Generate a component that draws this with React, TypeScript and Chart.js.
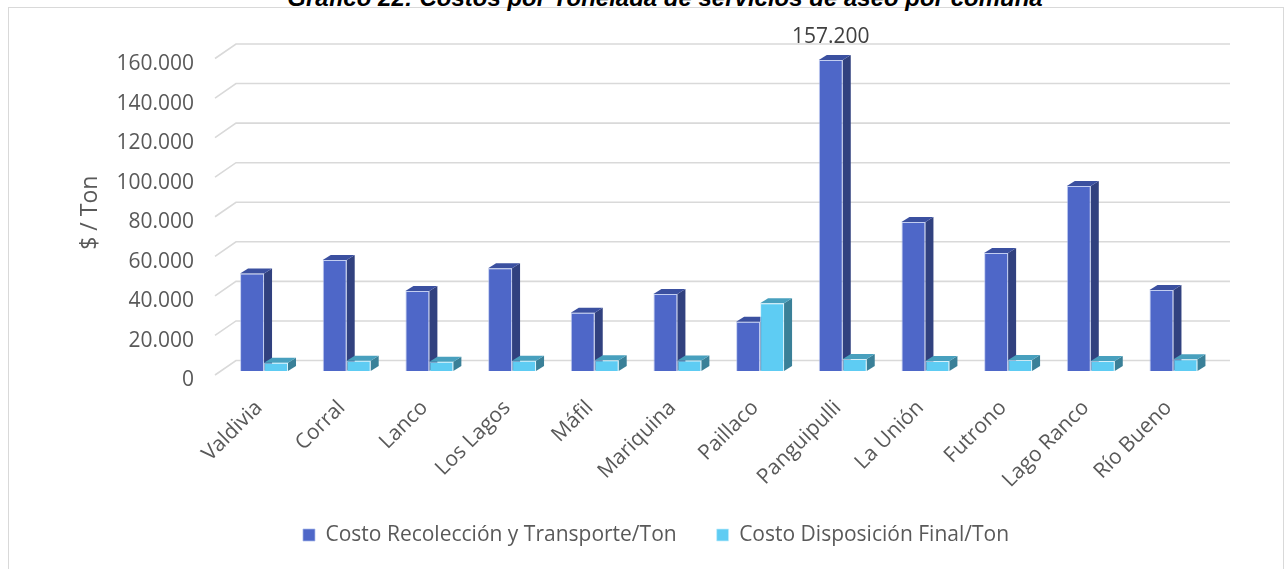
import React, { useEffect, useRef } from 'react';
import { Chart, registerables } from 'chart.js';

Chart.register(...registerables);

const categories = [
  'Valdivia', 'Corral', 'Lanco', 'Los Lagos', 'Máfil', 'Mariquina',
  'Paillaco', 'Panguipulli', 'La Unión', 'Futrono', 'Lago Ranco', 'Río Bueno',
];
const seriesNames = ['Costo Recolección y Transporte/Ton', 'Costo Disposición Final/Ton'];
const recoleccionTransporte = [49300, 56100, 40400, 51900, 29400, 38900, 24900, 157200, 75300, 59700, 93500, 40900];
const disposicionFinal = [4200, 5200, 4700, 5200, 5400, 5300, 34200, 6100, 5100, 5600, 5100, 5900];
const yTickValues = [0, 20000, 40000, 60000, 80000, 100000, 120000, 140000, 160000];
const labeledIndex = [7];
const yAxisTitle = '$ / Ton';
const chartTitle = 'Gráfico 22: Costos por Tonelada de servicios de aseo por comuna';

const FONT = "'Open Sans', sans-serif";
const TEXT = '#595959';
const frontColors = ['#4E67C8', '#5ECCF3'];
const sideColors = ['#31417F', '#3A8098'];
const topColors = ['#3B50A0', '#48A0BE'];
const DX = 8;
const DY = 5;

const fmt = (v: number) => Math.round(v).toString().replace(/\B(?=(\d{3})+(?!\d))/g, '.');

const threeD = {
  id: 'threeD',
  afterLayout(chart: any) {
    // let the rotated category labels run past the axis box without clipping
    chart.scales.x.bottom = chart.height;
  },
  beforeDatasetsDraw(chart: any) {
    const { ctx, chartArea } = chart;
    const y = chart.scales.y;
    ctx.save();
    ctx.strokeStyle = '#D9D9D9';
    ctx.lineWidth = 1.6;
    for (const v of yTickValues) {
      const p = y.getPixelForValue(v);
      ctx.beginPath();
      ctx.moveTo(chartArea.left - 7.7, p + 4);
      ctx.lineTo(chartArea.left + 13.3, p - 10.5);
      ctx.lineTo(chartArea.right + 15.2, p - 10.5);
      ctx.stroke();
    }
    const n = chart.data.labels.length;
    for (let i = 0; i < n; i++) {
      for (let d = 0; d < chart.data.datasets.length; d++) {
        const el: any = chart.getDatasetMeta(d).data[i];
        if (!el) continue;
        const { x, y: top, base, width } = el.getProps(['x', 'y', 'base', 'width'], true);
        const l = x - width / 2;
        const r = x + width / 2;
        ctx.fillStyle = sideColors[d];
        ctx.beginPath();
        ctx.moveTo(r, top);
        ctx.lineTo(r + DX, top - DY);
        ctx.lineTo(r + DX, base - DY);
        ctx.lineTo(r, base);
        ctx.closePath();
        ctx.fill();
        ctx.fillStyle = topColors[d];
        ctx.beginPath();
        ctx.moveTo(l, top);
        ctx.lineTo(l + DX, top - DY);
        ctx.lineTo(r + DX, top - DY);
        ctx.lineTo(r, top);
        ctx.closePath();
        ctx.fill();
      }
    }
    ctx.restore();
  },
  afterDatasetsDraw(chart: any) {
    const { ctx } = chart;
    const meta = chart.getDatasetMeta(0);
    ctx.save();
    ctx.fillStyle = '#404040';
    ctx.font = `21px ${FONT}`;
    ctx.textAlign = 'center';
    ctx.textBaseline = 'alphabetic';
    for (const i of labeledIndex) {
      const el: any = meta.data[i];
      const { x, y } = el.getProps(['x', 'y'], true);
      ctx.fillText(fmt(recoleccionTransporte[i]), x, y - 17.5);
    }
    ctx.restore();
  },
};

export default function App() {
  const ref = useRef<HTMLCanvasElement>(null);
  useEffect(() => {
    Chart.defaults.font.family = FONT;
    const chart = new Chart(ref.current as HTMLCanvasElement, {
      type: 'bar',
      data: {
        labels: categories,
        datasets: [
          {
            label: seriesNames[0],
            data: recoleccionTransporte,
            backgroundColor: frontColors[0],
            borderColor: 'rgba(170,185,235,0.7)',
            borderWidth: 1,
            categoryPercentage: 0.58,
            barPercentage: 1,
          },
          {
            label: seriesNames[1],
            data: disposicionFinal,
            backgroundColor: frontColors[1],
            borderColor: 'rgba(200,238,252,0.7)',
            borderWidth: 1,
            categoryPercentage: 0.58,
            barPercentage: 1,
          },
        ],
      },
      options: {
        responsive: false,
        animation: false,
        devicePixelRatio: 1,
        layout: { padding: { left: 97.2, right: 72.2, top: 54.5, bottom: 13.5 } },
        plugins: {
          legend: {
            position: 'bottom',
            labels: {
              boxWidth: 12,
              boxHeight: 12,
              padding: 40,
              color: TEXT,
              font: { size: 21, family: FONT },
            },
          },
          tooltip: { enabled: false },
        },
        scales: {
          x: {
            grid: { display: false, drawTicks: false },
            border: { display: false },
            ticks: {
              autoSkip: false,
              minRotation: 45,
              maxRotation: 45,
              padding: 24.5,
              labelOffset: -5,
              color: TEXT,
              font: { size: 21, family: FONT },
            },
            afterFit: (s: any) => { s.height = 113.5; },
          },
          y: {
            min: yTickValues[0],
            max: yTickValues[yTickValues.length - 1],
            afterBuildTicks: (s: any) => { s.ticks = yTickValues.map((v) => ({ value: v })); },
            ticks: {
              padding: 28.7,
              labelOffset: 9.5,
              color: TEXT,
              font: { size: 21, family: FONT },
              callback: (v: any) => fmt(Number(v)),
            },
            grid: { display: false, drawTicks: false },
            border: { display: false },
            title: {
              display: true,
              text: yAxisTitle,
              color: TEXT,
              font: { size: 23, family: FONT },
              padding: { top: -21, bottom: 0 },
            },
            afterFit: (s: any) => { s.width = 125.5; },
          },
        },
      },
      plugins: [threeD],
    } as any);
    return () => chart.destroy();
  }, []);

  return (
    <div style={{ position: 'fixed', left: 0, top: 0, width: 1287, height: 569, overflow: 'hidden', background: '#fff' }}>
      <div
        style={{
          position: 'absolute', left: 8, top: 7, width: 1276, height: 600,
          border: '1px solid #D9D9D9', boxSizing: 'border-box',
        }}
      />
      <div
        style={{
          position: 'absolute', top: -14, left: 665, transform: 'translateX(-50%)',
          whiteSpace: 'nowrap', font: 'italic bold 24px "Liberation Sans", sans-serif',
          lineHeight: '24px', color: '#000',
        }}
      >
        {chartTitle}
      </div>
      <canvas ref={ref} width={1287} height={569} style={{ position: 'absolute', left: 0, top: 0 }} />
    </div>
  );
}
